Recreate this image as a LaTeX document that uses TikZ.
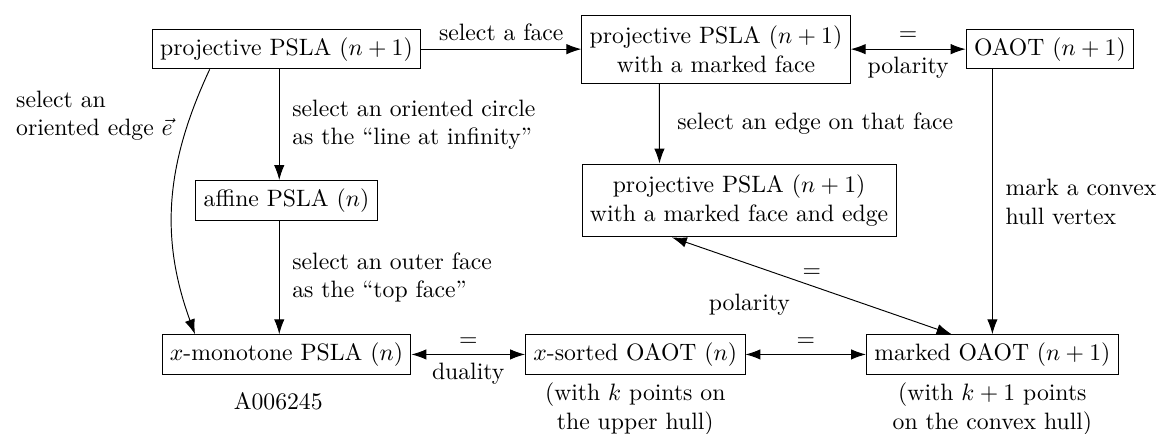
\documentclass[tikz,border=0pt]{standalone}
\usetikzlibrary{arrows.meta}
\begin{document}
\begin{tikzpicture}[box/.style={draw, align=center},
	tallbox/.style={box, inner ysep=4.6pt},
	arr/.style={-{Latex[length=6.3pt,width=4.4pt]}},
	dbl/.style={{Latex[length=6.3pt,width=4.4pt]}-{Latex[length=6.3pt,width=4.4pt]}}]
	\useasboundingbox (0,0) rectangle (17.19,6.436);
	% boxes
	\node[box] (proj) at (4.249,5.707) {projective PSLA $(n+1)$};
	\node[tallbox] (projface) at (10.62,5.707) {projective PSLA $(n+1)$\\with a marked face};
	\node[box] (oaot) at (15.572,5.707) {OAOT $(n+1)$};
	\node[box] (affine) at (4.249,3.466) {affine PSLA $(n)$};
	\node[tallbox] (projedge) at (10.962,3.463) {projective PSLA $(n+1)$\\with a marked face and edge};
	\node[box] (xmono) at (4.249,1.179) {$x$-monotone PSLA $(n)$};
	\node[box] (xsorted) at (9.422,1.179) {$x$-sorted OAOT $(n)$};
	\node[box] (marked) at (14.719,1.179) {marked OAOT $(n+1)$};
	\node[anchor=north, align=center] (xsortednote) at (xsorted.south) {(with $k$ points on\\the upper hull)};
	\node[anchor=north, align=center] (markednote) at (marked.south) {(with $k+1$ points\\on the convex hull)};
	\node (oeis) at (4.127,0.479) {A006245};
	% arrows
	\draw[arr] (proj) -- node[above] {select a face} (projface);
	\draw[dbl] (projface) -- node[above] {$=$} node[below] {polarity} (oaot);
	\draw[arr] ([xshift=-0.107cm]proj.south) -- node[right=2pt, align=left] {select an oriented circle\\as the ``line at infinity''} ([xshift=-0.107cm]affine.north);
	\draw[arr] ([xshift=-0.107cm]affine.south) -- node[right=2pt, align=left] {select an outer face\\as the ``top face''} ([xshift=-0.107cm]xmono.north);
	\draw[arr] ([xshift=-1.139cm]proj.south) to[out=-115, in=110] node[pos=0.17, left=4pt, align=left] {select an\\oriented edge $\vec{e}$} ([xshift=-1.357cm]xmono.north);
	\draw[arr] ([xshift=-0.84cm]projface.south) -- node[right=4pt] {select an edge on that face} ([xshift=-1.181cm]projedge.north);
	\draw[arr] (oaot.south -| marked.north) -- node[right=2pt, align=left] {mark a convex\\hull vertex} (marked.north);
	\draw[dbl] ([xshift=-0.996cm]projedge.south) -- node[above] {$=$} node[below left, xshift=-0.2cm] {polarity} ([xshift=-0.605cm]marked.north);
	\draw[dbl] (xmono) -- node[above] {$=$} node[below] {duality} (xsorted);
	\draw[dbl] (xsorted) -- node[above] {$=$} (marked);
\end{tikzpicture}
\end{document}
